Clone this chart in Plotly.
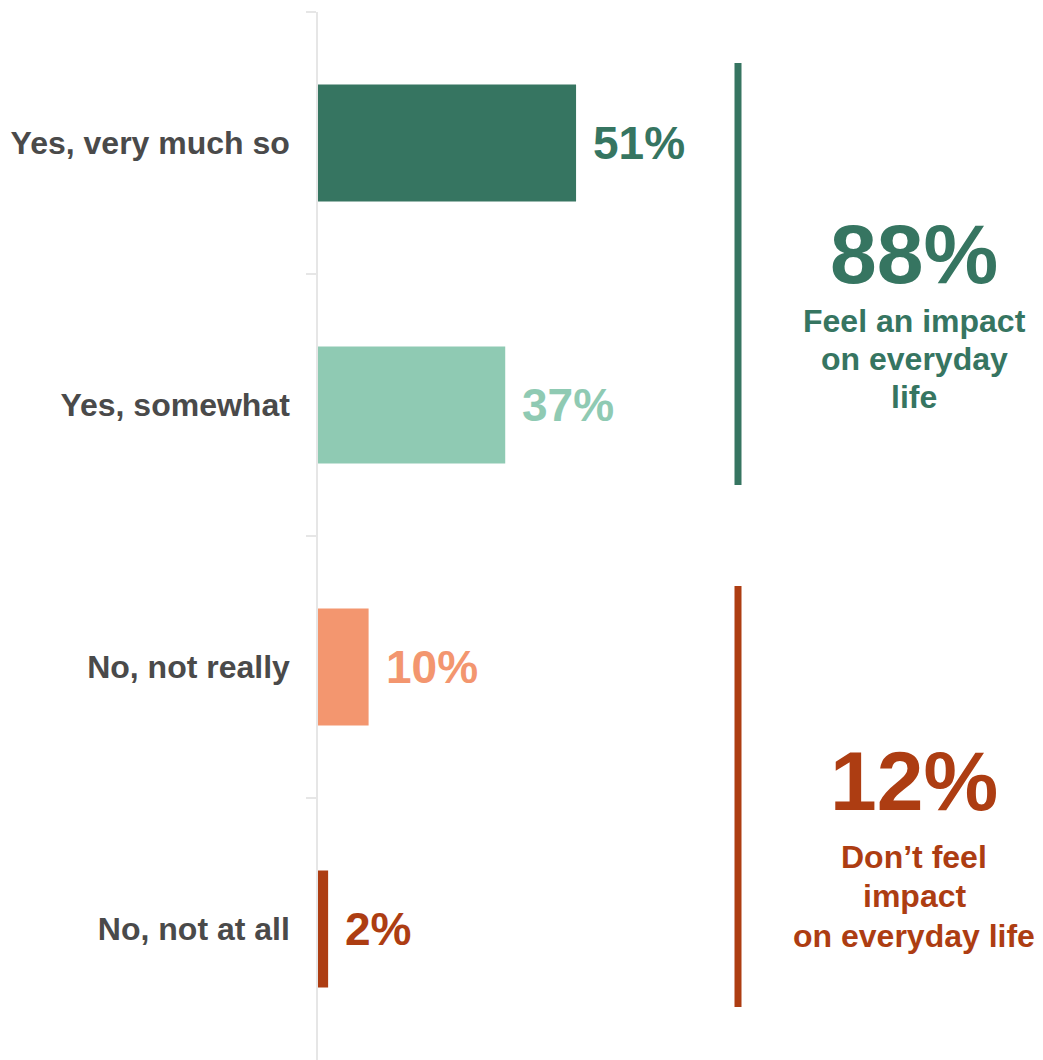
import plotly.graph_objects as go

categories = ["Yes, very much so", "Yes, somewhat", "No, not really", "No, not at all"]
values = [51, 37, 10, 2]
bar_colors = ["#367561", "#8fcab3", "#f3966f", "#ad3d12"]
value_labels = ["51%", "37%", "10%", "2%"]

group_totals = ["88%", "12%"]
group_lines = [["Feel an impact", "on everyday", "life"],
               ["Don’t feel", "impact", "on everyday life"]]
group_colors = ["#367561", "#ad3d12"]

FONT = "Liberation Sans, Arial, Helvetica, sans-serif"

# page offset (body margin) in px
OFF = 8
W, H = 1035, 1052
ml, mr, mt, mb = 310, 0, 4, 0
PXU = 5.06  # pixels per percentage point
plot_w = W - ml - mr
plot_h = H - mt - mb
xmax = plot_w / PXU


def paper_y(fig_px):
    return 1 - (fig_px - mt) / plot_h


def paper_x(page_px):
    return (page_px - OFF - ml) / plot_w


fig = go.Figure()
fig.add_trace(go.Bar(
    x=values, y=categories, orientation="h",
    marker=dict(color=bar_colors, line=dict(width=0)),
    hoverinfo="skip",
))

# value labels
for c, v, t, col in zip(categories, values, value_labels, bar_colors):
    fig.add_annotation(x=v, y=c, text=t, showarrow=False, xanchor="left", yanchor="middle",
                       xshift=15, font=dict(family=FONT, size=46, color=col, weight="bold"))

# group bracket lines (in category index units)
line_spans = [(-0.305, 1.305), (1.691, 3.298)]
line_x = (738 - OFF - ml) / PXU
for (y0, y1), col in zip(line_spans, group_colors):
    fig.add_shape(type="line", xref="x", yref="y", x0=line_x, x1=line_x,
                  y0=y0, y1=y1, line=dict(color=col, width=7))

big_y = [246, 773]
sub_y = [[313, 351, 389], [849, 888, 928]]
for tot, lines, col, by, sys_ in zip(group_totals, group_lines, group_colors, big_y, sub_y):
    fig.add_annotation(xref="paper", yref="paper", x=paper_x(914), y=paper_y(by), text=tot,
                       showarrow=False, xanchor="center", yanchor="middle",
                       font=dict(family=FONT, size=84, color=col, weight="bold"))
    for ln, sy in zip(lines, sys_):
        fig.add_annotation(xref="paper", yref="paper", x=paper_x(914), y=paper_y(sy), text=ln,
                           showarrow=False, xanchor="center", yanchor="middle", align="center",
                           font=dict(family=FONT, size=32, color=col, weight="bold"))

fig.update_layout(
    width=W, height=H,
    margin=dict(l=ml, r=mr, t=mt, b=mb, pad=0),
    plot_bgcolor="white", paper_bgcolor="white",
    showlegend=False,
    bargap=0.553,
    xaxis=dict(range=[0, xmax], visible=False, fixedrange=True),
    yaxis=dict(
        categoryorder="array", categoryarray=categories, range=[3.5, -0.5],
        showline=True, linecolor="#e6e6e6", linewidth=1.5,
        ticks="outside", tickson="boundaries", ticklen=10, tickcolor="#e6e6e6", tickwidth=1.5,
        ticklabelstandoff=20,
        tickfont=dict(family=FONT, size=32, color="#4a4a4a", weight="bold"),
        showgrid=False, zeroline=False, fixedrange=True,
    ),
)

fig.write_html("out.html")
